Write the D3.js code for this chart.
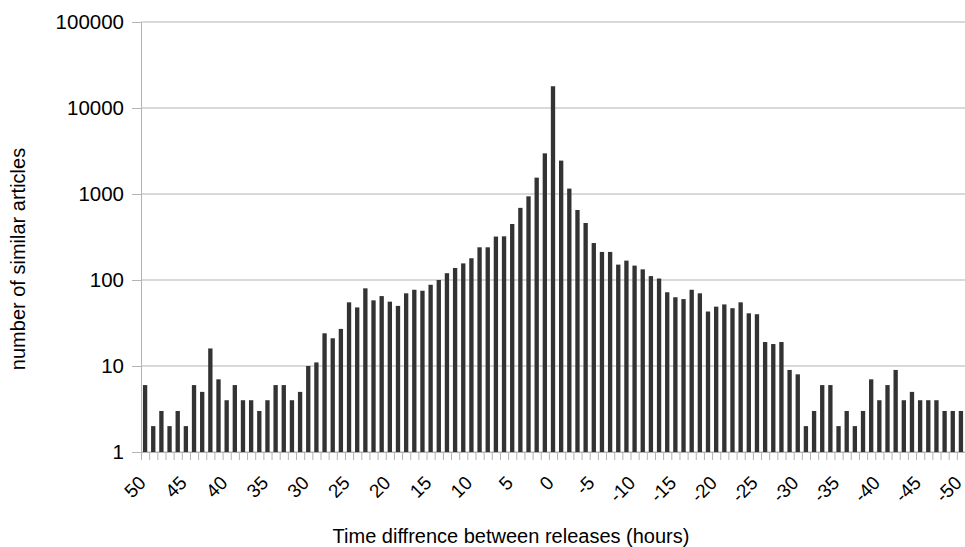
<!DOCTYPE html>
<html lang="en">
<head>
<meta charset="UTF-8">
<title>Time difference between releases</title>
<script src="https://d3js.org/d3.v7.min.js"></script>
<style>
  body { margin: 0; background: #fff; }
  svg { display: block; font-family: "Liberation Sans", Arial, sans-serif; }
</style>
</head>
<body>
<svg id="chart" width="965" height="547"></svg>
<script>
// hours between releases, left to right
const hours = [50, 49, 48, 47, 46, 45, 44, 43, 42, 41, 40, 39, 38, 37, 36, 35, 34, 33, 32, 31,
  30, 29, 28, 27, 26, 25, 24, 23, 22, 21, 20, 19, 18, 17, 16, 15, 14, 13, 12, 11,
  10, 9, 8, 7, 6, 5, 4, 3, 2, 1, 0, -1, -2, -3, -4, -5, -6, -7, -8, -9,
  -10, -11, -12, -13, -14, -15, -16, -17, -18, -19, -20, -21, -22, -23, -24, -25, -26, -27, -28, -29,
  -30, -31, -32, -33, -34, -35, -36, -37, -38, -39, -40, -41, -42, -43, -44, -45, -46, -47, -48, -49, -50];

// number of similar articles per hour
const articles = [6, 2, 3, 2, 3, 2, 6, 5, 16, 7, 4, 6, 4, 4, 3, 4, 6, 6, 4, 5,
  10, 11, 24, 21, 27, 55, 48, 80, 58, 65, 56, 50, 70, 77, 75, 88, 100, 120, 138, 156,
  179, 240, 240, 320, 322, 448, 690, 940, 1550, 2970, 17900, 2445, 1156, 652, 460, 269, 212, 212, 151, 168,
  147, 133, 111, 104, 72, 63, 60, 77, 70, 43, 49, 52, 47, 55, 41, 40, 19, 18, 19, 9,
  8, 2, 3, 6, 6, 2, 3, 2, 3, 7, 4, 6, 9, 4, 5, 4, 4, 4, 3, 3, 3];

const labelHours = [50, 45, 40, 35, 30, 25, 20, 15, 10, 5, 0, -5, -10, -15, -20, -25, -30, -35, -40, -45, -50];
const yTicks = [1, 10, 100, 1000, 10000, 100000];

const plotLeft = 141, plotRight = 965, plotTop = 22, plotBottom = 452;
const svg = d3.select('#chart');
const grey = '#b3b3b3';

const x = d3.scaleBand()
  .domain(hours)
  .range([plotLeft, plotRight])
  .paddingInner(0.47)
  .paddingOuter(0.235);

// band edges for the small tick marks
const xEdge = d3.scaleLinear().domain([0, hours.length]).range([plotLeft, plotRight]);

const y = d3.scaleLog().domain([1, 100000]).range([plotBottom, plotTop]);

// horizontal grid
svg.append('g')
  .selectAll('line')
  .data(yTicks)
  .join('line')
  .attr('x1', plotLeft).attr('x2', plotRight)
  .attr('y1', d => y(d)).attr('y2', d => y(d))
  .attr('stroke', grey);

// y axis
const yAxis = svg.append('g')
  .attr('transform', `translate(${plotLeft},0)`)
  .call(d3.axisLeft(y).tickValues(yTicks).tickFormat(d => String(d)).tickSize(9).tickSizeOuter(0).tickPadding(8));
yAxis.select('.domain').attr('stroke', grey);
yAxis.selectAll('.tick line').attr('stroke', grey);
yAxis.selectAll('text').attr('font-size', 20.5).attr('fill', '#000').attr('font-family', null);

// x axis tick marks at band edges
const xTicks = svg.append('g')
  .attr('transform', `translate(0,${plotBottom})`)
  .call(d3.axisBottom(xEdge).tickValues(d3.range(hours.length + 1)).tickFormat('').tickSize(8).tickSizeOuter(0));
xTicks.select('.domain').attr('stroke', grey);
xTicks.selectAll('.tick line').attr('stroke', grey);

// x labels, every 5 hours, rotated
const xLabels = svg.append('g')
  .attr('transform', `translate(0,${plotBottom})`)
  .call(d3.axisBottom(x).tickValues(labelHours).tickFormat(d => String(d)).tickSize(0));
xLabels.select('.domain').remove();
xLabels.selectAll('text')
  .attr('font-size', 19)
  .attr('font-family', null)
  .attr('fill', '#000')
  .attr('text-anchor', 'end')
  .attr('x', 2).attr('y', 32).attr('dy', 0)
  .attr('transform', 'rotate(-45, 2, 32)');

// bars
svg.append('g')
  .selectAll('rect')
  .data(hours.map((h, i) => ({ h, v: articles[i] })))
  .join('rect')
  .attr('x', d => x(d.h))
  .attr('width', x.bandwidth())
  .attr('y', d => y(d.v))
  .attr('height', d => y(1) - y(d.v))
  .attr('fill', '#333333');

// axis titles
svg.append('text')
  .attr('x', 511).attr('y', 543)
  .attr('text-anchor', 'middle')
  .attr('font-size', 20)
  .text('Time diffrence between releases (hours)');

svg.append('text')
  .attr('transform', 'translate(25,259) rotate(-90)')
  .attr('text-anchor', 'middle')
  .attr('font-size', 20)
  .text('number of similar articles');
</script>
</body>
</html>
